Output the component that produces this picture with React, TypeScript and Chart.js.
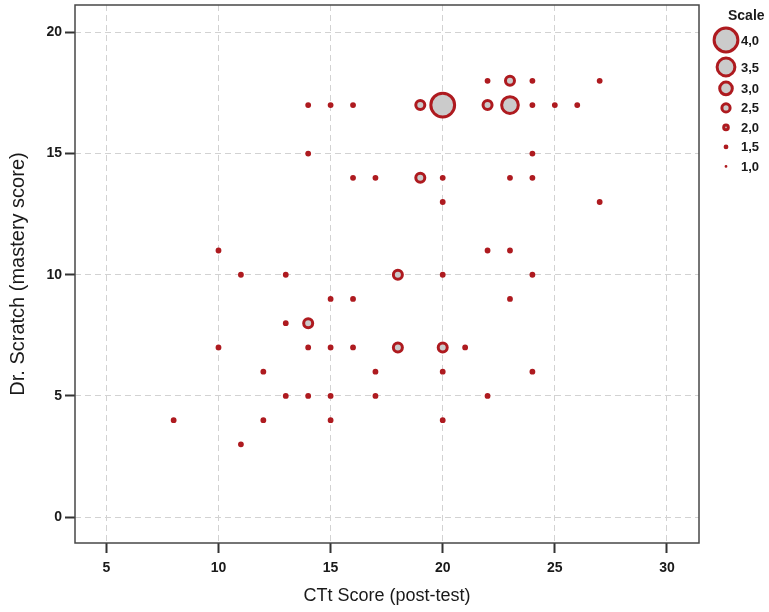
import React, { useEffect, useRef } from "react";
import { Chart, registerables } from "chart.js";

Chart.register(...registerables);

// CTt Score (post-test)
const xValues = [
  22, 23, 24, 27,
  14, 15, 16, 19, 20, 22, 23, 24, 25, 26,
  14, 24,
  16, 17, 19, 20, 23, 24,
  20, 27,
  10, 22, 23,
  11, 13, 18, 20, 24,
  15, 16, 23,
  13, 14,
  10, 14, 15, 16, 18, 20, 21,
  12, 17, 20, 24,
  13, 14, 15, 17, 22,
  8, 12, 15, 20,
  11,
];
// Dr. Scratch (mastery score)
const yValues = [
  18, 18, 18, 18,
  17, 17, 17, 17, 17, 17, 17, 17, 17, 17,
  15, 15,
  14, 14, 14, 14, 14, 14,
  13, 13,
  11, 11, 11,
  10, 10, 10, 10, 10,
  9, 9, 9,
  8, 8,
  7, 7, 7, 7, 7, 7, 7,
  6, 6, 6, 6,
  5, 5, 5, 5, 5,
  4, 4, 4, 4,
  3,
];
// bubble size on the "Scale" legend
const sizeValues = [
  1.7, 2.6, 1.7, 1.7,
  1.7, 1.7, 1.7, 2.6, 4.0, 2.6, 3.4, 1.7, 1.7, 1.7,
  1.7, 1.7,
  1.7, 1.7, 2.6, 1.7, 1.7, 1.7,
  1.7, 1.7,
  1.7, 1.7, 1.7,
  1.7, 1.7, 2.6, 1.7, 1.7,
  1.7, 1.7, 1.7,
  1.7, 2.6,
  1.7, 1.7, 1.7, 1.7, 2.6, 2.6, 1.7,
  1.7, 1.7, 1.7, 1.7,
  1.7, 1.7, 1.7, 1.7, 1.7,
  1.7, 1.7, 1.7, 1.7,
  1.7,
];

const xTicks = [5, 10, 15, 20, 25, 30];
const yTicks = [0, 5, 10, 15, 20];
const legendValues = [4.0, 3.5, 3.0, 2.5, 2.0, 1.5, 1.0];
const legendLabels = ["4,0", "3,5", "3,0", "2,5", "2,0", "1,5", "1,0"];

const xTitle = "CTt Score (post-test)";
const yTitle = "Dr. Scratch (mastery score)";
const legendTitle = "Scale";

const STROKE = "#ae1a1f";
const FILL = "#cbcbcb";
const BW = 3;
const FONT = '"Liberation Sans", Arial, sans-serif';

const outerRadius = (v: number) => 0.8 * v * v + 0.6;

const framePlugin = {
  id: "frameAndScale",
  afterDraw(chart: any) {
    const { ctx, chartArea: a } = chart;
    ctx.save();
    ctx.strokeStyle = "#474747";
    ctx.lineWidth = 1.5;
    ctx.setLineDash([]);
    ctx.strokeRect(a.left, a.top, a.right - a.left, a.bottom - a.top);

    // size legend
    ctx.fillStyle = "#1a1a1a";
    ctx.font = `bold 14px ${FONT}`;
    ctx.textBaseline = "middle";
    ctx.textAlign = "left";
    ctx.fillText(legendTitle, a.right + 29, 16);

    const cx = a.right + 27;
    let y = 40;
    let prev = -1;
    legendValues.forEach((v, i) => {
      const R = outerRadius(v);
      if (prev >= 0) y += Math.max(19.5, prev + R + 3.2);
      prev = R;
      const lw = Math.min(BW, R);
      const r = Math.max(R - lw / 2, 0.1);
      ctx.beginPath();
      ctx.arc(cx, y, r, 0, Math.PI * 2);
      ctx.fillStyle = FILL;
      ctx.fill();
      ctx.lineWidth = lw;
      ctx.strokeStyle = STROKE;
      ctx.stroke();
      ctx.fillStyle = "#1a1a1a";
      ctx.font = `bold 13px ${FONT}`;
      ctx.fillText(legendLabels[i], a.right + 42, y + 1);
    });
    ctx.restore();
  },
};

export default function App() {
  const canvasRef = useRef<HTMLCanvasElement | null>(null);

  useEffect(() => {
    if (!canvasRef.current) return;
    const data = xValues.map((x, i) => ({
      x,
      y: yValues[i],
      r: outerRadius(sizeValues[i]) - BW / 2,
    }));

    const chart = new Chart(canvasRef.current, {
      type: "bubble",
      data: {
        datasets: [
          {
            data,
            backgroundColor: FILL,
            borderColor: STROKE,
            borderWidth: BW,
            hoverRadius: 0,
          } as any,
        ],
      },
      options: {
        responsive: false,
        animation: false,
        layout: {
          autoPadding: false,
          padding: { left: 0, right: 70, top: 5, bottom: 0 },
        },
        plugins: {
          legend: { display: false },
          tooltip: { enabled: false },
        },
        scales: {
          x: {
            type: "linear",
            min: 3.6,
            max: 31.43,
            afterBuildTicks: (s: any) => {
              s.ticks = xTicks.map((v) => ({ value: v }));
            },
            afterFit: (s: any) => {
              s.height = 69;
              s.paddingLeft = 0;
              s.paddingRight = 0;
            },
            grid: {
              color: "#d2d2d2",
              lineWidth: 1,
              tickColor: "#333333",
              tickWidth: 2,
              tickLength: 10,
              tickBorderDash: [],
            } as any,
            border: { display: false, dash: [6, 4] },
            ticks: {
              color: "#1a1a1a",
              font: { family: FONT, size: 14, weight: "bold" },
              padding: 7,
              maxRotation: 0,
            },
            title: {
              display: true,
              text: xTitle,
              color: "#1a1a1a",
              font: { family: FONT, size: 18 },
              padding: { top: 0, bottom: 5 },
            },
          },
          y: {
            type: "linear",
            min: -1.07,
            max: 21.13,
            afterBuildTicks: (s: any) => {
              s.ticks = yTicks.map((v) => ({ value: v }));
            },
            afterFit: (s: any) => {
              s.width = 75;
              s.paddingTop = 0;
              s.paddingBottom = 0;
            },
            grid: {
              color: "#d2d2d2",
              lineWidth: 1,
              tickColor: "#333333",
              tickWidth: 2,
              tickLength: 10,
              tickBorderDash: [],
            } as any,
            border: { display: false, dash: [6, 4] },
            ticks: {
              color: "#1a1a1a",
              font: { family: FONT, size: 14, weight: "bold" },
              padding: 3,
            },
            title: {
              display: true,
              text: yTitle,
              color: "#1a1a1a",
              font: { family: FONT, size: 20 },
              padding: { top: 6, bottom: 0 },
            },
          },
        },
      },
      plugins: [framePlugin],
    });

    return () => chart.destroy();
  }, []);

  return (
    <div
      style={{
        position: "fixed",
        left: 0,
        top: 0,
        width: 769,
        height: 612,
        background: "#ffffff",
      }}
    >
      <canvas
        ref={canvasRef}
        width={769}
        height={612}
        style={{ width: 769, height: 612, display: "block" }}
      />
    </div>
  );
}
